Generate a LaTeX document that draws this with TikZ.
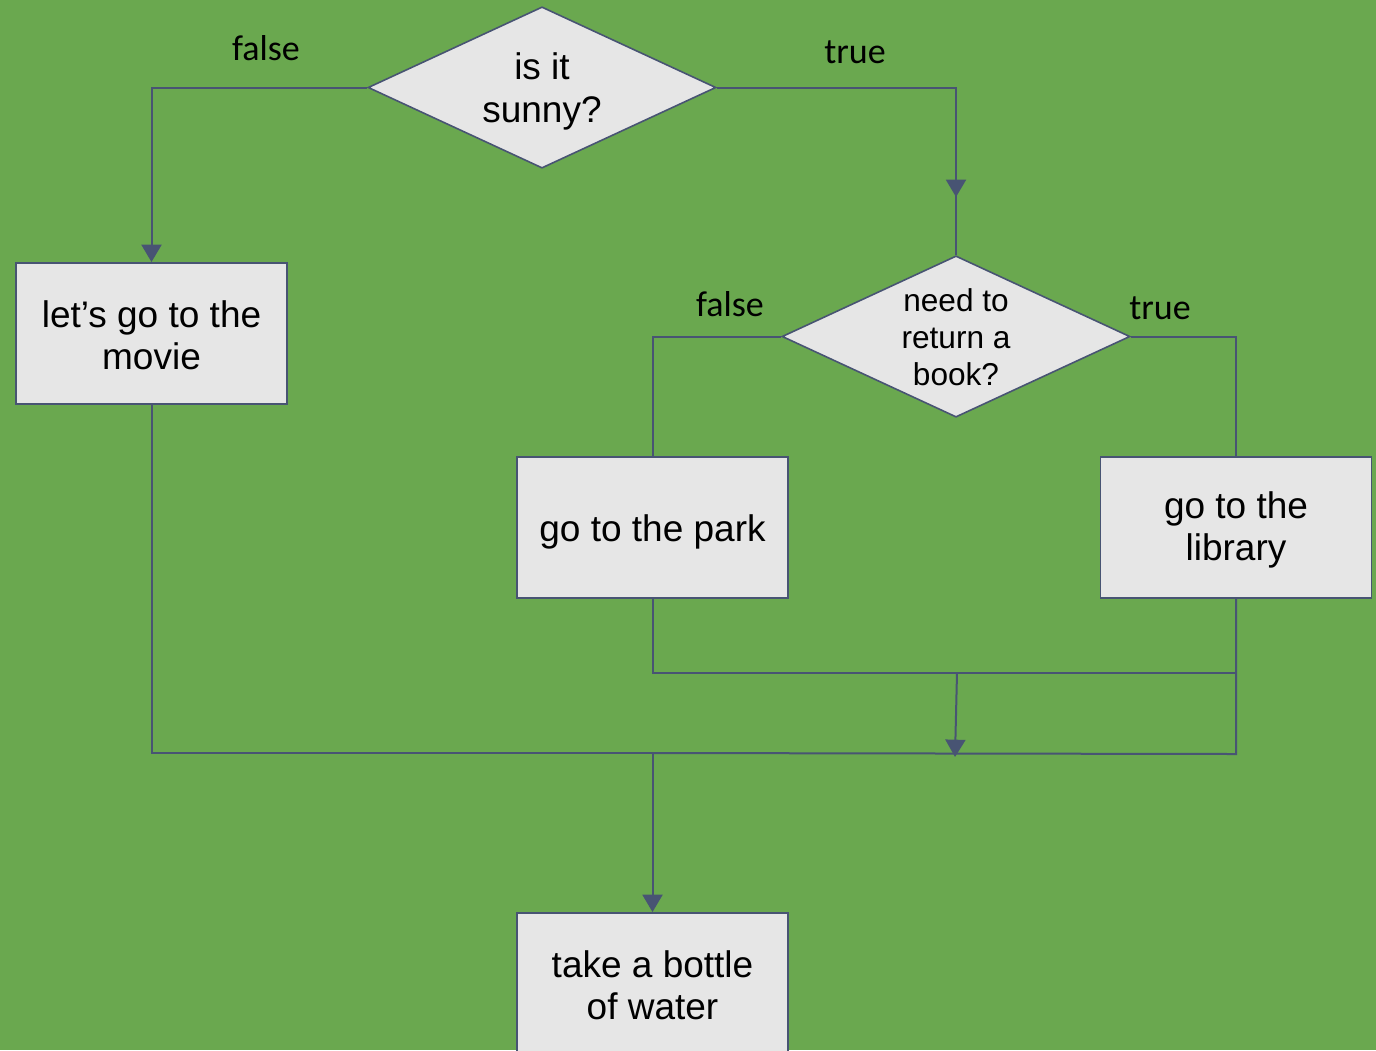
\documentclass[tikz,border=0pt]{standalone}
\usepackage{fontspec}
\setmainfont{Liberation Sans}
\newfontfamily\calfont{Carlito}
\usetikzlibrary{arrows.meta,shapes.geometric}
\definecolor{bg}{HTML}{6AA84F}
\definecolor{boxfill}{HTML}{E6E6E6}
\definecolor{edge}{HTML}{485473}
\begin{document}
\begin{tikzpicture}[x=0.75pt,y=-0.75pt,
 box/.style={draw=edge,fill=boxfill,line width=1.2pt,minimum width=203pt,minimum height=106pt,inner sep=0pt},
 btext/.style={align=center,inner sep=0pt,font=\fontsize{27.75}{31.5}\selectfont},
 dec/.style={draw=edge,fill=boxfill,line width=1.2pt,shape=diamond,minimum width=261pt,minimum height=121pt,inner sep=0pt},
 dectext/.style={align=center,inner sep=0pt},
 lbl/.style={font=\calfont\fontsize{27}{32}\selectfont},
 conn/.style={draw=edge,line width=1.5pt},
 arr/.style={conn,-{Triangle[width=15pt,length=13pt]}}]
\fill[bg] (0,0) rectangle (1376,1050);
\useasboundingbox (0,0) rectangle (1376,1050);

% nodes
\node[dec] (d1) at (542,87.5) {};
\node[dectext,font=\fontsize{27.75}{32.25}\selectfont] (t1) at ([yshift=-3pt]d1.center) {is it\\sunny?};
\node[dec] (d2) at (956,336.5) {};
\node[dectext,font=\fontsize{23.7}{27.75}\selectfont] (t2) at ([yshift=-0.8pt]d2.center) {need to\\return a\\book?};
\node[box] (movie) at (151.5,333.5) {};
\node[btext] (movie-t) at ([yshift=-1pt]movie.center) {let’s go to the\\movie};
\node[box] (park) at (652.5,527.5) {};
\node[btext] (park-t) at ([yshift=-3pt]park.center) {go to the park};
\node[box] (lib) at (1236,527.5) {};
\node[btext] (lib-t) at ([yshift=-2pt]lib.center) {go to the\\library};
\node[box] (water) at (652.5,983.5) {};
\node[btext] (water-t) at ([yshift=-1pt]water.center) {take a bottle\\of water};

% labels
\node[lbl] (f1) at (266,48) {false};
\node[lbl] (tr1) at (855,52) {true};
\node[lbl] (f2) at (730,304) {false};
\node[lbl] (tr2) at (1160,308) {true};

% junction coordinates
\coordinate (j1) at (1236,673);
\coordinate (j2) at (1236,754);
\coordinate (j3) at (652.5,753);
\coordinate (a1s) at (956,125);
\coordinate (a1e) at (956,197);
\coordinate (a2s) at (957,673);
\coordinate (a2e) at (955,757);

% connectors
\draw[arr] (d1.west) -| (movie.north);
\draw[conn] (d1.east) -| (d2.north);
\draw[arr] (a1s) -- (a1e);
\draw[conn] (d2.west) -| (park.north);
\draw[conn] (d2.east) -| (lib.north);
\draw[conn] (park.south) |- (j1);
\draw[conn] (lib.south) -- (j2) -- (j3);
\draw[arr] (a2s) -- (a2e);
\draw[conn] (movie.south) |- (j3);
\draw[arr] (j3) -- (water.north);
\end{tikzpicture}
\end{document}
